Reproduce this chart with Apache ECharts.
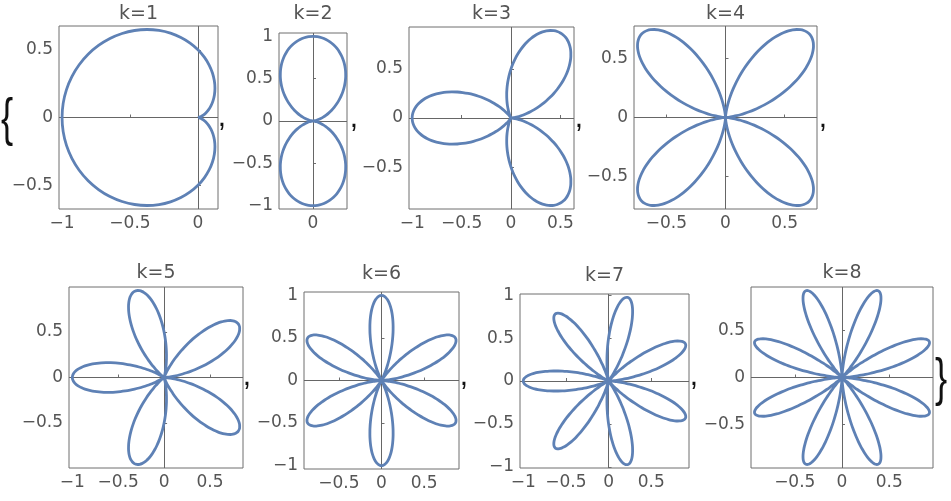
<!DOCTYPE html>
<html>
<head>
<meta charset="utf-8">
<script src="https://cdn.jsdelivr.net/npm/echarts@6/dist/echarts.min.js"></script>
<style>
html,body{margin:0;padding:0;background:#fff;}
#chart{width:951px;height:501px;}
</style>
</head>
<body>
<div id="chart"></div>
<script>
// ---- data ----
const kValues = [1, 2, 3, 4, 5, 6, 7, 8];
const titles = ['k=1', 'k=2', 'k=3', 'k=4', 'k=5', 'k=6', 'k=7', 'k=8'];
// radius of one petal, sampled at equal angular steps across the petal (tip = 1)
const petalProfile = [
  0, 0.0027, 0.0109, 0.0245, 0.0432, 0.0670, 0.0955, 0.1284, 0.1654, 0.2061,
  0.25, 0.2966, 0.3455, 0.3960, 0.4477, 0.5, 0.5523, 0.6040, 0.6545, 0.7034,
  0.75, 0.7939, 0.8346, 0.8716, 0.9045, 0.9330, 0.9568, 0.9755, 0.9891, 0.9973,
  1,
  0.9973, 0.9891, 0.9755, 0.9568, 0.9330, 0.9045, 0.8716, 0.8346, 0.7939, 0.75,
  0.7034, 0.6545, 0.6040, 0.5523, 0.5, 0.4477, 0.3960, 0.3455, 0.2966, 0.25,
  0.2061, 0.1654, 0.1284, 0.0955, 0.0670, 0.0432, 0.0245, 0.0109, 0.0027, 0
];
const xTickLabels = [
  [-1, -0.5, 0], [0], [-1, -0.5, 0, 0.5], [-0.5, 0, 0.5],
  [-1, -0.5, 0, 0.5], [-0.5, 0, 0.5], [-1, -0.5, 0, 0.5], [-0.5, 0, 0.5]
];
const yTickLabels = [
  [-0.5, 0, 0.5], [-1, -0.5, 0, 0.5, 1], [-0.5, 0, 0.5], [-0.5, 0, 0.5],
  [-0.5, 0, 0.5], [-1, -0.5, 0, 0.5, 1], [-1, -0.5, 0, 0.5, 1], [-0.5, 0, 0.5]
];

// ---- layout ----
const gridBoxes = [
  [59, 26, 159, 183], [279, 33, 68, 176], [409, 27, 165, 182], [634, 26, 183, 183],
  [69, 287, 174, 181], [304, 292, 155, 177], [520, 294, 169, 174], [751, 287, 182, 181]
];
const titleY = [14, 14, 14, 14, 273, 274, 276, 273];
const commaPos = [[222, 133], [354, 134], [579, 134], [823, 134], [247, 392], [464, 392], [694, 392]];

const curveColor = '#5E81B5';
const fmt = v => (v < 0 ? '\u2212' + String(-v) : String(v));

function buildCurve(k) {
  const pts = [];
  const n = petalProfile.length - 1;
  for (let j = 0; j < k; j++) {
    for (let i = (j === 0 ? 0 : 1); i <= n; i++) {
      const th = 2 * Math.PI * (j + i / n) / k;
      const r = petalProfile[i];
      pts.push([r * Math.cos(th), r * Math.sin(th)]);
    }
  }
  return pts;
}

const grids = [], xAxes = [], yAxes = [], series = [], graphics = [];
kValues.forEach((k, idx) => {
  const pts = buildCurve(k);
  let xmin = Infinity, xmax = -Infinity, ymin = Infinity, ymax = -Infinity;
  pts.forEach(p => {
    xmin = Math.min(xmin, p[0]); xmax = Math.max(xmax, p[0]);
    ymin = Math.min(ymin, p[1]); ymax = Math.max(ymax, p[1]);
  });
  const px = 0.02 * (xmax - xmin), py = 0.02 * (ymax - ymin);
  const b = gridBoxes[idx];
  grids.push({
    left: b[0], top: b[1], width: b[2], height: b[3],
    show: true, borderColor: '#6e6e6e', borderWidth: 1, backgroundColor: 'transparent',
    containLabel: false
  });
  const axisCommon = {
    type: 'value',
    splitLine: { show: false },
    axisLine: { show: false },
    axisTick: { show: true, inside: true, length: 3, lineStyle: { color: '#6e6e6e', width: 1 } },
    axisLabel: { color: '#555', fontFamily: 'DejaVu Sans', fontSize: 17, margin: 6, formatter: fmt }
  };
  xAxes.push(Object.assign({}, axisCommon, {
    gridIndex: idx, min: xmin - px, max: xmax + px,
    axisTick: Object.assign({}, axisCommon.axisTick, { customValues: xTickLabels[idx] }),
    axisLabel: Object.assign({}, axisCommon.axisLabel, { customValues: xTickLabels[idx] })
  }));
  yAxes.push(Object.assign({}, axisCommon, {
    gridIndex: idx, min: ymin - py, max: ymax + py,
    axisTick: Object.assign({}, axisCommon.axisTick, { customValues: yTickLabels[idx] }),
    axisLabel: Object.assign({}, axisCommon.axisLabel, { customValues: yTickLabels[idx] })
  }));
  series.push({
    type: 'line', xAxisIndex: idx, yAxisIndex: idx, data: pts,
    showSymbol: false, smooth: 0.3, z: 3, animation: false,
    lineStyle: { color: curveColor, width: 2.8 },
    markLine: {
      silent: true, symbol: 'none', z: 1, animation: false,
      label: { show: false },
      lineStyle: { color: '#666', width: 1, type: 'solid' },
      data: [{ xAxis: 0 }, { yAxis: 0 }]
    }
  });
  graphics.push({
    type: 'text', x: b[0] + b[2] / 2, y: titleY[idx],
    style: { text: titles[idx], fill: '#555', font: '19px "DejaVu Sans"', textAlign: 'center', textVerticalAlign: 'middle' }
  });
});

commaPos.forEach(p => {
  graphics.push({
    type: 'text', x: p[0], y: p[1],
    style: { text: ',', fill: '#111', font: '30px "Liberation Sans"', textAlign: 'center', textVerticalAlign: 'bottom' }
  });
});
graphics.push({
  type: 'text', x: 7, y: 121, scaleX: 0.7,
  style: { text: '{', fill: '#111', font: '52px "Liberation Sans"', textAlign: 'center', textVerticalAlign: 'middle' }
});
graphics.push({
  type: 'text', x: 941, y: 381, scaleX: 0.7,
  style: { text: '}', fill: '#111', font: '52px "Liberation Sans"', textAlign: 'center', textVerticalAlign: 'middle' }
});

const chart = echarts.init(document.getElementById('chart'), null, { renderer: 'canvas' });
chart.setOption({
  animation: false,
  backgroundColor: '#fff',
  grid: grids, xAxis: xAxes, yAxis: yAxes, series: series,
  graphic: graphics
});
</script>
</body>
</html>
